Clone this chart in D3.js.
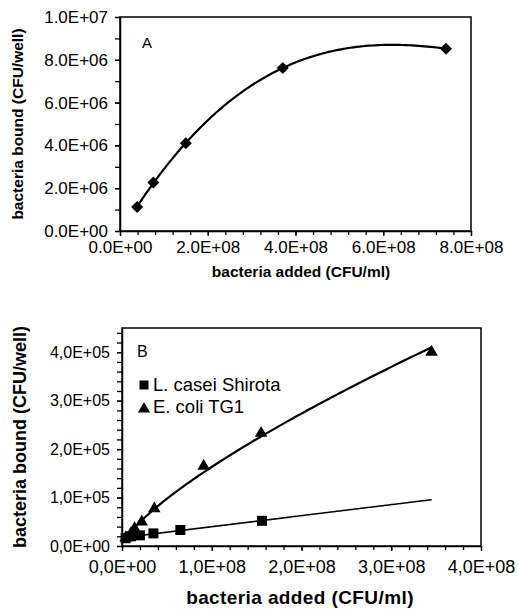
<!DOCTYPE html>
<html>
<head>
<meta charset="utf-8">
<script src="https://cdn.jsdelivr.net/npm/d3@7"></script>
<style>
  body { margin: 0; background: #fff; }
  text { font-family: "Liberation Sans", Arial, sans-serif; fill: #000; }
</style>
</head>
<body>
<div class="canvas"></div>
<script>
// panel A data (bacteria added vs bound)
const addedA = [3.9e7, 7.6e7, 1.5e8, 3.71e8, 7.43e8];
const boundA = [1.12e6, 2.27e6, 4.1e6, 7.62e6, 8.52e6];

// panel B data
const caseiAdded = [4e6, 1e7, 2e7, 3.5e7, 6.5e7, 1.56e8];
const caseiBound = [1.6e4, 2.0e4, 2.2e4, 2.6e4, 3.3e4, 5.2e4];
const coliAdded = [4e6, 1e7, 1.4e7, 2.2e7, 3.6e7, 9.1e7, 1.55e8, 3.45e8];
const coliBound = [1.7e4, 2.6e4, 3.6e4, 5.0e4, 7.7e4, 1.65e5, 2.33e5, 4.0e5];
const seriesNamesB = ['L. casei Shirota', 'E. coli TG1'];

// ticks
const xTicksA = [0, 2e8, 4e8, 6e8, 8e8];
const yTicksA = [0, 2e6, 4e6, 6e6, 8e6, 1e7];
const xTicksB = [0, 1e8, 2e8, 3e8, 4e8];
const yTicksB = [0, 1e5, 2e5, 3e5, 4e5];

const svg = d3.select('.canvas')
    .append('svg')
        .attr('width', 518)
        .attr('height', 609);

// scientific label like 1.0E+07 (sep = '.' or ',')
const sci = sep => v => {
    if (v === 0) return '0' + sep + '0E+00';
    const e = Math.floor(Math.log10(v));
    const m = (v / Math.pow(10, e)).toFixed(1).replace('.', sep);
    return m + 'E+' + String(e).padStart(2, '0');
};

// least squares polynomial, x scaled for stability
function polyfit(xs, ys, order) {
    const sx = 1e8, sy = 1e5;
    const n = order + 1;
    const A = [], b = [];
    for (let i = 0; i < n; i++) {
        A.push(new Array(n).fill(0));
        b.push(0);
    }
    xs.forEach((x, k) => {
        const xx = x / sx, yy = ys[k] / sy;
        for (let i = 0; i < n; i++) {
            for (let j = 0; j < n; j++) A[i][j] += Math.pow(xx, i + j);
            b[i] += yy * Math.pow(xx, i);
        }
    });
    for (let i = 0; i < n; i++) {
        let p = i;
        for (let r = i + 1; r < n; r++) if (Math.abs(A[r][i]) > Math.abs(A[p][i])) p = r;
        [A[i], A[p]] = [A[p], A[i]];
        [b[i], b[p]] = [b[p], b[i]];
        for (let r = i + 1; r < n; r++) {
            const f = A[r][i] / A[i][i];
            for (let c = i; c < n; c++) A[r][c] -= f * A[i][c];
            b[r] -= f * b[i];
        }
    }
    const coef = new Array(n).fill(0);
    for (let i = n - 1; i >= 0; i--) {
        let s = b[i];
        for (let c = i + 1; c < n; c++) s -= A[i][c] * coef[c];
        coef[i] = s / A[i][i];
    }
    return x => {
        const xx = x / sx;
        return coef.reduce((acc, c, i) => acc + c * Math.pow(xx, i), 0) * sy;
    };
}

// power trendline y = a*x^b (fit in log space)
function powerfit(xs, ys) {
    const lin = polyfit(xs.map(v => Math.log(v) * 1e8), ys.map(v => Math.log(v) * 1e5), 1);
    return x => Math.exp(lin(Math.log(x) * 1e8) / 1e5);
}

function sample(f, x0, x1) {
    return d3.range(0, 101).map(i => {
        const x = x0 + (x1 - x0) * i / 100;
        return [x, f(x)];
    });
}

function drawAxes(g, x, y, o) {
    // minor ticks
    g.append('g')
        .attr('transform', `translate(0,${o.bottom})`)
        .call(d3.axisBottom(x).tickValues(o.xMinor).tickSize(4).tickFormat(''))
        .call(a => a.select('.domain').remove());
    g.append('g')
        .attr('transform', `translate(${o.left},0)`)
        .call(d3.axisLeft(y).tickValues(o.yMinor).tickSize(5).tickFormat(''))
        .call(a => a.select('.domain').remove());

    const xAxis = g.append('g')
        .attr('transform', `translate(0,${o.bottom})`)
        .call(d3.axisBottom(x).tickValues(o.xTicks).tickSize(5).tickSizeOuter(0).tickPadding(o.xPad).tickFormat(sci(o.sep)));
    const yAxis = g.append('g')
        .attr('transform', `translate(${o.left},0)`)
        .call(d3.axisLeft(y).tickValues(o.yTicks).tickSize(5).tickSizeOuter(0).tickPadding(7).tickFormat(sci(o.sep)));

    xAxis.selectAll('text').style('font-size', o.xFont + 'px');
    yAxis.selectAll('text').style('font-size', o.yFont + 'px');
    g.selectAll('.tick line').attr('stroke', '#000').attr('stroke-width', 1.3);
    g.selectAll('.domain').attr('stroke', '#000').attr('stroke-width', 1.5);

    // frame
    g.append('rect')
        .attr('x', o.left).attr('y', o.top)
        .attr('width', o.right - o.left).attr('height', o.bottom - o.top)
        .attr('fill', 'none').attr('stroke', '#000').attr('stroke-width', 1.5);
}

const line = d3.line().x(d => d[0]).y(d => d[1]);

// ---------- panel A ----------
const gA = svg.append('g');
const xA = d3.scaleLinear().domain([0, 8e8]).range([120, 471]);
const yA = d3.scaleLinear().domain([0, 1e7]).range([231, 17]);

drawAxes(gA, xA, yA, {
    left: 120, right: 471, top: 17, bottom: 231,
    xTicks: xTicksA, yTicks: yTicksA,
    xMinor: d3.range(0, 8e8 + 1, 4e7), yMinor: d3.range(0, 1e7 + 1, 1e6),
    sep: '.', xFont: 17, yFont: 17, xPad: 5
});

const fitA = polyfit(addedA, boundA, 3);
const curveA = sample(fitA, d3.min(addedA), d3.max(addedA));
gA.append('path')
    .attr('d', line(curveA.map(d => [xA(d[0]), yA(d[1])])))
    .attr('fill', 'none').attr('stroke', '#000').attr('stroke-width', 2.2);

gA.selectAll('.diamond')
    .data(addedA.map((v, i) => [v, boundA[i]]))
    .enter().append('path')
        .attr('d', d3.symbol(d3.symbolSquare, 72)())
        .attr('transform', d => `translate(${xA(d[0])},${yA(d[1])}) rotate(45)`)
        .attr('fill', '#000');

gA.append('text').attr('x', 142).attr('y', 48).style('font-size', '15px').text('A');
gA.append('text')
    .attr('x', 301).attr('y', 277)
    .attr('text-anchor', 'middle')
    .style('font-size', '15.5px').style('font-weight', 'bold')
    .text('bacteria added (CFU/ml)');
gA.append('text')
    .attr('transform', 'translate(23,124) rotate(-90)')
    .attr('text-anchor', 'middle')
    .style('font-size', '15.5px').style('font-weight', 'bold')
    .text('bacteria bound (CFU/well)');

// ---------- panel B ----------
const gB = svg.append('g');
const xB = d3.scaleLinear().domain([0, 4e8]).range([122, 481]);
const yB = d3.scaleLinear().domain([0, 4.5e5]).range([546, 328]);

drawAxes(gB, xB, yB, {
    left: 122, right: 481, top: 328, bottom: 546,
    xTicks: xTicksB, yTicks: yTicksB,
    xMinor: d3.range(0, 4e8 + 1, 2e7), yMinor: d3.range(0, 4.5e5 + 1, 2e4),
    sep: ',', xFont: 18, yFont: 16, xPad: 9
});

const xEndB = d3.max(coliAdded);
const fitCasei = polyfit(caseiAdded, caseiBound, 1);
const fitColi = powerfit(coliAdded, coliBound);

gB.append('path')
    .attr('d', line(sample(fitCasei, d3.min(caseiAdded), xEndB).map(d => [xB(d[0]), yB(d[1])])))
    .attr('fill', 'none').attr('stroke', '#000').attr('stroke-width', 1.6);
gB.append('path')
    .attr('d', line(sample(fitColi, d3.min(coliAdded), xEndB).map(d => [xB(d[0]), yB(d[1])])))
    .attr('fill', 'none').attr('stroke', '#000').attr('stroke-width', 2.2);

gB.selectAll('.sq')
    .data(caseiAdded.map((v, i) => [v, caseiBound[i]]))
    .enter().append('path')
        .attr('d', d3.symbol(d3.symbolSquare, 100)())
        .attr('transform', d => `translate(${xB(d[0])},${yB(d[1])})`)
        .attr('fill', '#000');
gB.selectAll('.tri')
    .data(coliAdded.map((v, i) => [v, coliBound[i]]))
    .enter().append('path')
        .attr('d', d3.symbol(d3.symbolTriangle, 68)())
        .attr('transform', d => `translate(${xB(d[0])},${yB(d[1])})`)
        .attr('fill', '#000');

gB.append('text').attr('x', 137).attr('y', 357).style('font-size', '16px').text('B');

// legend
const legend = gB.append('g');
legend.append('path')
    .attr('d', d3.symbol(d3.symbolSquare, 81)())
    .attr('transform', 'translate(144,385)');
legend.append('path')
    .attr('d', d3.symbol(d3.symbolTriangle, 64)())
    .attr('transform', 'translate(144,409)');
legend.selectAll('.lt')
    .data(seriesNamesB)
    .enter().append('text')
        .attr('x', 153)
        .attr('y', (d, i) => 391 + i * 22)
        .style('font-size', '18.5px')
        .text(d => d);

gB.append('text')
    .attr('x', 300).attr('y', 604)
    .attr('text-anchor', 'middle')
    .style('font-size', '19px').style('font-weight', 'bold')
    .style('letter-spacing', '0.4px')
    .text('bacteria added (CFU/ml)');
gB.append('text')
    .attr('transform', 'translate(26,437) rotate(-90)')
    .attr('text-anchor', 'middle')
    .style('font-size', '18px').style('font-weight', 'bold')
    .text('bacteria bound (CFU/well)');
</script>
</body>
</html>
